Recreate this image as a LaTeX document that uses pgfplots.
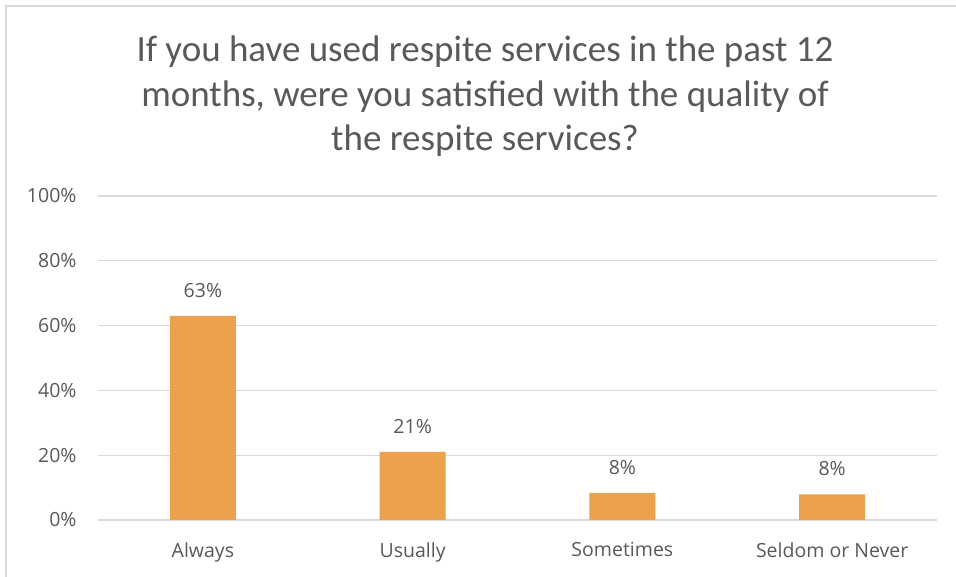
\documentclass[border=0pt]{standalone}
\usepackage{pgfplots}
\pgfplotsset{compat=1.18}
\usepackage{fontspec}
\setmainfont{Carlito}
\newfontfamily\labelfont{Open Sans}
\definecolor{barorange}{RGB}{236,161,76}
\definecolor{txtgray}{RGB}{89,89,89}
\definecolor{gridgray}{RGB}{217,217,217}
\begin{document}
\begin{tikzpicture}
\useasboundingbox (0pt,0pt) rectangle (956pt,577pt);
\fill[white] (0pt,0pt) rectangle (956pt,577pt);
% chart frame (only top and left edges visible)
\draw[gridgray,line width=1.2pt] (6pt,-5pt) -- (6pt,571pt) -- (965pt,571pt);
% title
\node[txtgray,font=\fontsize{37}{44}\selectfont,anchor=base]
  at (485pt,515pt) {If you have used respite services in the past 12};
\node[txtgray,font=\fontsize{37}{44}\selectfont,anchor=base]
  at (485pt,470pt) {months, were you satisfied with the quality of};
\node[txtgray,font=\fontsize{37}{44}\selectfont,anchor=base]
  at (485pt,426pt) {the respite services?};
\begin{axis}[
  at={(98pt,57pt)}, anchor=south west,
  scale only axis, width=839pt, height=324pt,
  xmin=-0.5, xmax=3.5, ymin=0, ymax=100,
  axis line style={draw=none},
  major tick length=0pt,
  ytick={0,20,40,60,80,100},
  yticklabel={\pgfmathprintnumber{\tick}\%},
  /pgf/number format/assume math mode=true,
  ymajorgrids, grid style={gridgray,line width=1.2pt},
  xtick={0,1,2,3},
  xticklabels={Always,Usually,Sometimes,Seldom or Never},
  tick label style={txtgray,font=\labelfont\fontsize{19.5}{24}\selectfont},
  yticklabel style={xshift=-18pt},
  xticklabel style={yshift=-19pt},
  ybar, bar width=66pt,
  nodes near coords={\pgfmathprintnumber[precision=0,fixed]{\pgfplotspointmeta}\%},
  nodes near coords style={txtgray,font=\labelfont\fontsize{19.5}{24}\selectfont,yshift=15pt},
  clip=false,
]
\addplot[fill=barorange,draw=none] coordinates {(0,63) (1,21) (2,8.4) (3,7.9)};
\end{axis}
\end{tikzpicture}
\end{document}
